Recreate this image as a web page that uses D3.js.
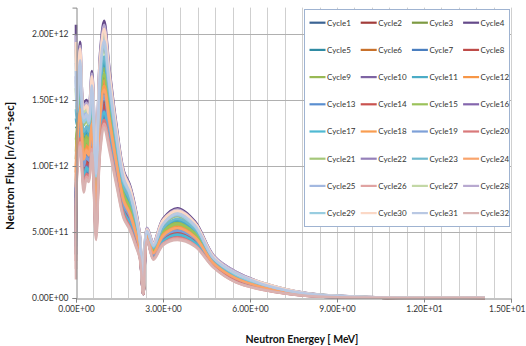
<!DOCTYPE html>
<html>
<head>
<meta charset="utf-8">
<script src="https://cdn.jsdelivr.net/npm/d3@7"></script>
<style>
  body { margin: 0; background: #fff; }
  text { font-family: Lato, "Open Sans", sans-serif; }
</style>
</head>
<body>
<svg id="chart"></svg>
<script>
// 画布尺寸
const width = 526;
const height = 346;

// x 轴：中子能量 (MeV)
const energy = [0, 0.03, 0.14, 0.27, 0.36, 0.44, 0.55, 0.69, 0.83, 0.97, 1.15, 1.4, 1.65, 1.85,
  2.05, 2.2, 2.32, 2.45, 2.67, 3.0, 3.5, 4.1, 4.75, 5.5, 6.5, 8.0, 10.5, 14.1];

// 通量，单位 1E+11 n/cm2-sec
const fluxUnit = 1e11;
const cycle1  = [3.3, 9.7, 12.3, 8.7, 9.6, 9.4, 11.6, 5.0, 11.8, 13.7, 11.8, 9.0, 6.4, 5.5, 4.3, 3.2, 0.3, 4.5, 3.0, 4.2, 4.6, 4.1, 2.4, 1.3, 0.65, 0.17, 0.02, 0.01];
const cycle2  = [6.2, 10.6, 13.5, 9.7, 10.5, 10.2, 12.6, 5.9, 12.9, 14.9, 12.8, 9.6, 6.9, 6.1, 4.7, 3.5, 0.4, 4.6, 3.2, 4.5, 5.0, 4.4, 2.5, 1.4, 0.73, 0.2, 0.03, 0.01];
const cycle3  = [10.5, 12.1, 15.2, 11.2, 11.8, 11.4, 13.9, 7.3, 14.5, 16.7, 14.1, 10.6, 7.7, 6.8, 5.3, 3.9, 0.4, 4.8, 3.5, 4.9, 5.5, 4.8, 2.7, 1.6, 0.84, 0.24, 0.03, 0.01];
const cycle4  = [20.7, 15.5, 19.4, 14.8, 15.0, 14.4, 17.2, 10.5, 18.5, 21.0, 17.4, 13.0, 9.6, 8.6, 6.8, 4.8, 0.5, 5.3, 4.2, 6.0, 6.8, 5.8, 3.2, 2.0, 1.1, 0.35, 0.05, 0.02];
const cycle5  = [13.0, 12.9, 16.2, 12.1, 12.6, 12.2, 14.7, 8.1, 15.5, 17.8, 14.9, 11.2, 8.2, 7.2, 5.7, 4.1, 0.4, 4.9, 3.7, 5.2, 5.8, 5.0, 2.8, 1.7, 0.9, 0.27, 0.04, 0.02];
const cycle6  = [9.5, 11.7, 14.8, 10.9, 11.5, 11.2, 13.6, 7.0, 14.2, 16.3, 13.8, 10.4, 7.5, 6.6, 5.2, 3.8, 0.4, 4.8, 3.5, 4.8, 5.4, 4.7, 2.7, 1.5, 0.81, 0.23, 0.03, 0.01];
const cycle7  = [7.6, 11.1, 14.0, 10.2, 10.9, 10.6, 13.0, 6.4, 13.4, 15.5, 13.2, 9.9, 7.2, 6.3, 4.9, 3.6, 0.4, 4.7, 3.3, 4.6, 5.2, 4.5, 2.6, 1.5, 0.76, 0.21, 0.03, 0.01];
const cycle8  = [5.7, 10.4, 13.2, 9.5, 10.3, 10.0, 12.4, 5.7, 12.7, 14.7, 12.6, 9.5, 6.8, 6.0, 4.6, 3.4, 0.3, 4.6, 3.2, 4.4, 4.9, 4.3, 2.5, 1.4, 0.71, 0.19, 0.03, 0.01];
const cycle9  = [12.0, 12.6, 15.9, 11.7, 12.3, 11.9, 14.4, 7.8, 15.1, 17.4, 14.6, 11.0, 8.0, 7.1, 5.5, 4.0, 0.4, 4.9, 3.6, 5.1, 5.7, 5.0, 2.8, 1.6, 0.88, 0.26, 0.04, 0.02];
const cycle10 = [4.9, 10.2, 12.9, 9.2, 10.1, 9.8, 12.1, 5.5, 12.4, 14.4, 12.3, 9.3, 6.7, 5.8, 4.5, 3.3, 0.3, 4.6, 3.1, 4.4, 4.8, 4.2, 2.5, 1.3, 0.69, 0.19, 0.03, 0.01];
const cycle11 = [13.6, 13.1, 16.5, 12.3, 12.8, 12.3, 14.9, 8.2, 15.7, 18.0, 15.1, 11.3, 8.3, 7.3, 5.8, 4.1, 0.4, 5.0, 3.7, 5.3, 5.9, 5.1, 2.9, 1.7, 0.92, 0.28, 0.04, 0.02];
const cycle12 = [9.9, 11.9, 15.0, 11.0, 11.6, 11.3, 13.7, 7.1, 14.3, 16.5, 13.9, 10.5, 7.6, 6.7, 5.2, 3.8, 0.4, 4.8, 3.5, 4.9, 5.5, 4.7, 2.7, 1.6, 0.82, 0.24, 0.03, 0.01];
const cycle13 = [3.9, 9.9, 12.5, 8.9, 9.8, 9.5, 11.8, 5.2, 12.0, 14.0, 12.0, 9.1, 6.5, 5.6, 4.4, 3.2, 0.3, 4.5, 3.1, 4.3, 4.7, 4.2, 2.4, 1.3, 0.67, 0.18, 0.02, 0.01];
const cycle14 = [5.3, 10.3, 13.1, 9.4, 10.2, 9.9, 12.2, 5.6, 12.5, 14.5, 12.4, 9.4, 6.7, 5.9, 4.6, 3.4, 0.3, 4.6, 3.2, 4.4, 4.9, 4.3, 2.5, 1.4, 0.7, 0.19, 0.03, 0.01];
const cycle15 = [11.1, 12.3, 15.5, 11.4, 12.0, 11.6, 14.1, 7.5, 14.8, 17.0, 14.3, 10.8, 7.8, 6.9, 5.4, 3.9, 0.4, 4.9, 3.6, 5.0, 5.6, 4.9, 2.8, 1.6, 0.85, 0.25, 0.04, 0.02];
const cycle16 = [4.5, 10.0, 12.8, 9.1, 10.0, 9.7, 12.0, 5.4, 12.2, 14.2, 12.2, 9.2, 6.6, 5.7, 4.5, 3.3, 0.3, 4.5, 3.1, 4.3, 4.8, 4.2, 2.4, 1.3, 0.68, 0.18, 0.02, 0.01];
const cycle17 = [4.3, 10.0, 12.7, 9.0, 9.9, 9.6, 11.9, 5.3, 12.1, 14.1, 12.1, 9.2, 6.5, 5.7, 4.4, 3.3, 0.3, 4.5, 3.1, 4.3, 4.8, 4.2, 2.4, 1.3, 0.68, 0.18, 0.02, 0.01];
const cycle18 = [8.9, 11.5, 14.6, 10.7, 11.3, 11.0, 13.4, 6.8, 13.9, 16.1, 13.6, 10.3, 7.4, 6.5, 5.1, 3.7, 0.4, 4.8, 3.4, 4.8, 5.3, 4.6, 2.7, 1.5, 0.8, 0.23, 0.03, 0.01];
const cycle19 = [7.0, 10.9, 13.8, 10.0, 10.7, 10.4, 12.8, 6.2, 13.2, 15.3, 13.0, 9.8, 7.0, 6.2, 4.8, 3.5, 0.4, 4.7, 3.3, 4.6, 5.1, 4.5, 2.6, 1.4, 0.75, 0.21, 0.03, 0.01];
const cycle20 = [2.8, 9.5, 12.1, 8.5, 9.4, 9.2, 11.4, 4.8, 11.5, 13.5, 11.6, 8.8, 6.3, 5.4, 4.2, 3.1, 0.3, 4.5, 3.0, 4.1, 4.6, 4.0, 2.4, 1.3, 0.6, 0.16, 0.02, 0.01];
const cycle21 = [15.9, 13.9, 17.4, 13.1, 13.5, 13.0, 15.7, 9.0, 16.6, 19.0, 15.9, 11.9, 8.7, 7.8, 6.1, 4.4, 0.5, 5.1, 3.9, 5.5, 6.2, 5.3, 3.0, 1.8, 0.98, 0.3, 0.04, 0.02];
const cycle22 = [16.8, 14.2, 17.8, 13.4, 13.8, 13.3, 16.0, 9.3, 17.0, 19.4, 16.2, 12.1, 8.9, 7.9, 6.2, 4.4, 0.5, 5.1, 3.9, 5.6, 6.3, 5.4, 3.0, 1.8, 1.0, 0.31, 0.04, 0.02];
const cycle23 = [14.3, 13.4, 16.8, 12.6, 13.0, 12.6, 15.2, 8.5, 16.0, 18.3, 15.4, 11.5, 8.4, 7.5, 5.9, 4.2, 0.4, 5.0, 3.8, 5.3, 6.0, 5.2, 2.9, 1.7, 0.94, 0.28, 0.04, 0.02];
const cycle24 = [8.4, 11.3, 14.3, 10.5, 11.2, 10.8, 13.2, 6.6, 13.7, 15.8, 13.4, 10.1, 7.3, 6.4, 5.0, 3.7, 0.4, 4.7, 3.4, 4.7, 5.3, 4.6, 2.6, 1.5, 0.78, 0.22, 0.03, 0.01];
const cycle25 = [17.8, 14.5, 18.2, 13.8, 14.1, 13.6, 16.3, 9.6, 17.4, 19.8, 16.5, 12.3, 9.1, 8.1, 6.4, 4.5, 0.5, 5.2, 4.0, 5.7, 6.4, 5.5, 3.1, 1.9, 1.0, 0.32, 0.05, 0.02];
const cycle26 = [2.2, 9.3, 11.8, 8.3, 9.2, 9.0, 11.3, 4.6, 11.3, 13.2, 11.5, 8.7, 6.1, 5.3, 4.1, 3.1, 0.3, 4.4, 3.0, 4.1, 4.5, 4.0, 2.3, 1.2, 0.6, 0.16, 0.02, 0.01];
const cycle27 = [18.8, 14.9, 18.6, 14.1, 14.4, 13.8, 16.6, 9.9, 17.8, 20.2, 16.8, 12.6, 9.2, 8.3, 6.5, 4.6, 0.5, 5.2, 4.1, 5.8, 6.6, 5.6, 3.1, 1.9, 1.1, 0.33, 0.05, 0.02];
const cycle28 = [19.9, 15.2, 19.1, 14.5, 14.8, 14.2, 17.0, 10.3, 18.2, 20.7, 17.2, 12.8, 9.5, 8.5, 6.7, 4.7, 0.5, 5.3, 4.2, 5.9, 6.7, 5.7, 3.2, 2.0, 1.1, 0.34, 0.05, 0.02];
const cycle29 = [16.5, 14.1, 17.7, 13.3, 13.7, 13.2, 15.8, 9.2, 16.9, 19.2, 16.0, 12.0, 8.8, 7.9, 6.2, 4.4, 0.5, 5.1, 3.9, 5.6, 6.3, 5.4, 3.0, 1.8, 0.99, 0.31, 0.04, 0.02];
const cycle30 = [19.4, 15.1, 18.9, 14.3, 14.6, 14.0, 16.8, 10.1, 18.0, 20.4, 17.0, 12.7, 9.4, 8.4, 6.6, 4.7, 0.5, 5.2, 4.1, 5.9, 6.6, 5.7, 3.1, 1.9, 1.1, 0.34, 0.05, 0.02];
const cycle31 = [17.2, 14.3, 18.0, 13.6, 13.9, 13.4, 16.1, 9.4, 17.2, 19.5, 16.3, 12.2, 9.0, 8.0, 6.3, 4.5, 0.5, 5.1, 4.0, 5.6, 6.4, 5.5, 3.0, 1.9, 1.0, 0.31, 0.04, 0.02];
const cycle32 = [1.4, 9.0, 11.5, 8.0, 9.0, 8.8, 11.0, 4.4, 11.0, 12.9, 11.2, 8.5, 6.0, 5.2, 4.0, 3.0, 0.3, 4.4, 2.9, 4.0, 4.4, 3.9, 2.3, 1.2, 0.6, 0.15, 0.02, 0.01];

const cycleNames = ["Cycle1", "Cycle2", "Cycle3", "Cycle4", "Cycle5", "Cycle6", "Cycle7", "Cycle8",
  "Cycle9", "Cycle10", "Cycle11", "Cycle12", "Cycle13", "Cycle14", "Cycle15", "Cycle16",
  "Cycle17", "Cycle18", "Cycle19", "Cycle20", "Cycle21", "Cycle22", "Cycle23", "Cycle24",
  "Cycle25", "Cycle26", "Cycle27", "Cycle28", "Cycle29", "Cycle30", "Cycle31", "Cycle32"];
const fluxSeries = [cycle1, cycle2, cycle3, cycle4, cycle5, cycle6, cycle7, cycle8,
  cycle9, cycle10, cycle11, cycle12, cycle13, cycle14, cycle15, cycle16,
  cycle17, cycle18, cycle19, cycle20, cycle21, cycle22, cycle23, cycle24,
  cycle25, cycle26, cycle27, cycle28, cycle29, cycle30, cycle31, cycle32];

const colors = ["#3c6494", "#a23c3a", "#7d9a42", "#654a8a", "#2f8ba3", "#c8712b", "#4a7ebf", "#be4b48",
  "#98b954", "#7e64a3", "#4bacc6", "#f79646", "#5a8ed0", "#c9524f", "#9bc25a", "#8466ad",
  "#4fb9d3", "#f99d50", "#7ea0d8", "#d9797a", "#a5c77a", "#9580b9", "#6fb9cd", "#f9a46c",
  "#a3b8e0", "#e0a3a2", "#c3d8a6", "#b8a9d0", "#99cde0", "#fbd8c6", "#b9c8e3", "#d9b3b2"];

// 刻度
const xTicks = [0, 3, 6, 9, 12, 15];
const xGrid = [0.6, 1.2, 1.8, 2.4, 3, 3.6, 4.2, 4.8, 5.4, 6, 6.6, 7.2, 7.8, 8.4, 9, 9.6,
  10.2, 10.8, 11.4, 12, 12.6, 13.2, 13.8, 14.4, 15];
const yTicks = [0, 5e11, 1e12, 1.5e12, 2e12];

// 科学计数法标签，如 2.00E+12
function sciFormat(v) {
  const [m, e] = v.toExponential(2).split("e");
  const sign = e[0] === "-" ? "-" : "+";
  return m + "E" + sign + e.replace(/[+-]/, "").padStart(2, "0");
}

const svg = d3.select("#chart")
  .attr("width", width)
  .attr("height", height);

svg.append("rect").attr("width", width).attr("height", height).attr("fill", "#fff");

// 比例尺
const x = d3.scaleLinear().domain([0, 15]).range([76, 511]);
const y = d3.scaleLinear().domain([0, 2.2e12]).range([298, 7.6]);

// 网格
svg.append("g")
  .selectAll("line")
  .data(xGrid)
  .enter()
  .append("line")
  .attr("x1", d => Math.round(x(d)) + 0.5)
  .attr("x2", d => Math.round(x(d)) + 0.5)
  .attr("y1", y.range()[1])
  .attr("y2", y(0))
  .attr("stroke", "#cfcfcf")
  .attr("stroke-width", 1);

svg.append("g")
  .selectAll("line")
  .data(yTicks.slice(1))
  .enter()
  .append("line")
  .attr("x1", x(0))
  .attr("x2", x(15))
  .attr("y1", d => Math.round(y(d)) + 0.5)
  .attr("y2", d => Math.round(y(d)) + 0.5)
  .attr("stroke", "#b0b0b0")
  .attr("stroke-width", 1);

// 曲线
const line = d3.line()
  .x((d, i) => x(energy[i]))
  .y(d => y(d * fluxUnit))
  .curve(d3.curveCatmullRom.alpha(0.5));

svg.append("g")
  .selectAll("path")
  .data(fluxSeries)
  .enter()
  .append("path")
  .attr("fill", "none")
  .attr("stroke", (d, i) => colors[i])
  .attr("stroke-width", 2.6)
  .attr("stroke-linejoin", "round")
  .attr("d", line);

// 坐标轴
const xAxis = svg.append("g")
  .attr("transform", `translate(0,${Math.round(y(0)) + 0.5})`)
  .call(d3.axisBottom(x).tickValues(xTicks).tickSize(4).tickFormat(sciFormat));
const yAxis = svg.append("g")
  .attr("transform", `translate(${Math.round(x(0)) + 0.5},0)`)
  .call(d3.axisLeft(y).tickValues(yTicks).tickSize(4).tickFormat(sciFormat));

[xAxis, yAxis].forEach(ax => {
  ax.select(".domain").attr("stroke", "#868686");
  ax.selectAll(".tick line").attr("stroke", "#868686");
  ax.selectAll(".tick text")
    .style("font-family", "Lato, sans-serif")
    .style("font-size", "8.5px")
    .attr("fill", "#333");
});
xAxis.selectAll(".tick text").attr("dy", "0.9em").attr("y", 6);
yAxis.selectAll(".tick text").attr("x", -8);
// 最右侧标签贴住画布边缘
xAxis.selectAll(".tick text")
  .filter(d => d === 15)
  .attr("text-anchor", "end")
  .attr("x", width - 1 - x(15));

// 轴标题
svg.append("text")
  .attr("x", 302)
  .attr("y", 343)
  .attr("text-anchor", "middle")
  .style("font-size", "10.5px")
  .style("font-weight", "bold")
  .attr("fill", "#111")
  .text("Neutron Energey [ MeV]");

svg.append("text")
  .attr("transform", "translate(14,166) rotate(-90)")
  .attr("text-anchor", "middle")
  .style("font-size", "11.5px")
  .style("font-weight", "bold")
  .attr("fill", "#111")
  .text("Neutron Flux [n/cm²-sec]");

// 图例
const legend = svg.append("g");
legend.append("rect")
  .attr("x", 304.5)
  .attr("y", 9.5)
  .attr("width", 205)
  .attr("height", 217)
  .attr("fill", "#fff")
  .attr("stroke", "#9fb3d1");

const items = legend.selectAll(".legend-item")
  .data(cycleNames)
  .enter()
  .append("g")
  .attr("class", "legend-item")
  .attr("transform", (d, i) => `translate(${309.5 + (i % 4) * 51.2},${22.7 + Math.floor(i / 4) * 27.2})`);

items.append("line")
  .attr("x1", 0)
  .attr("x2", 16)
  .attr("stroke", (d, i) => colors[i])
  .attr("stroke-width", 2.2);

items.append("text")
  .attr("x", 17.5)
  .attr("dy", "0.35em")
  .style("font-size", "8px")
  .attr("fill", "#333")
  .text(d => d);
</script>
</body>
</html>
